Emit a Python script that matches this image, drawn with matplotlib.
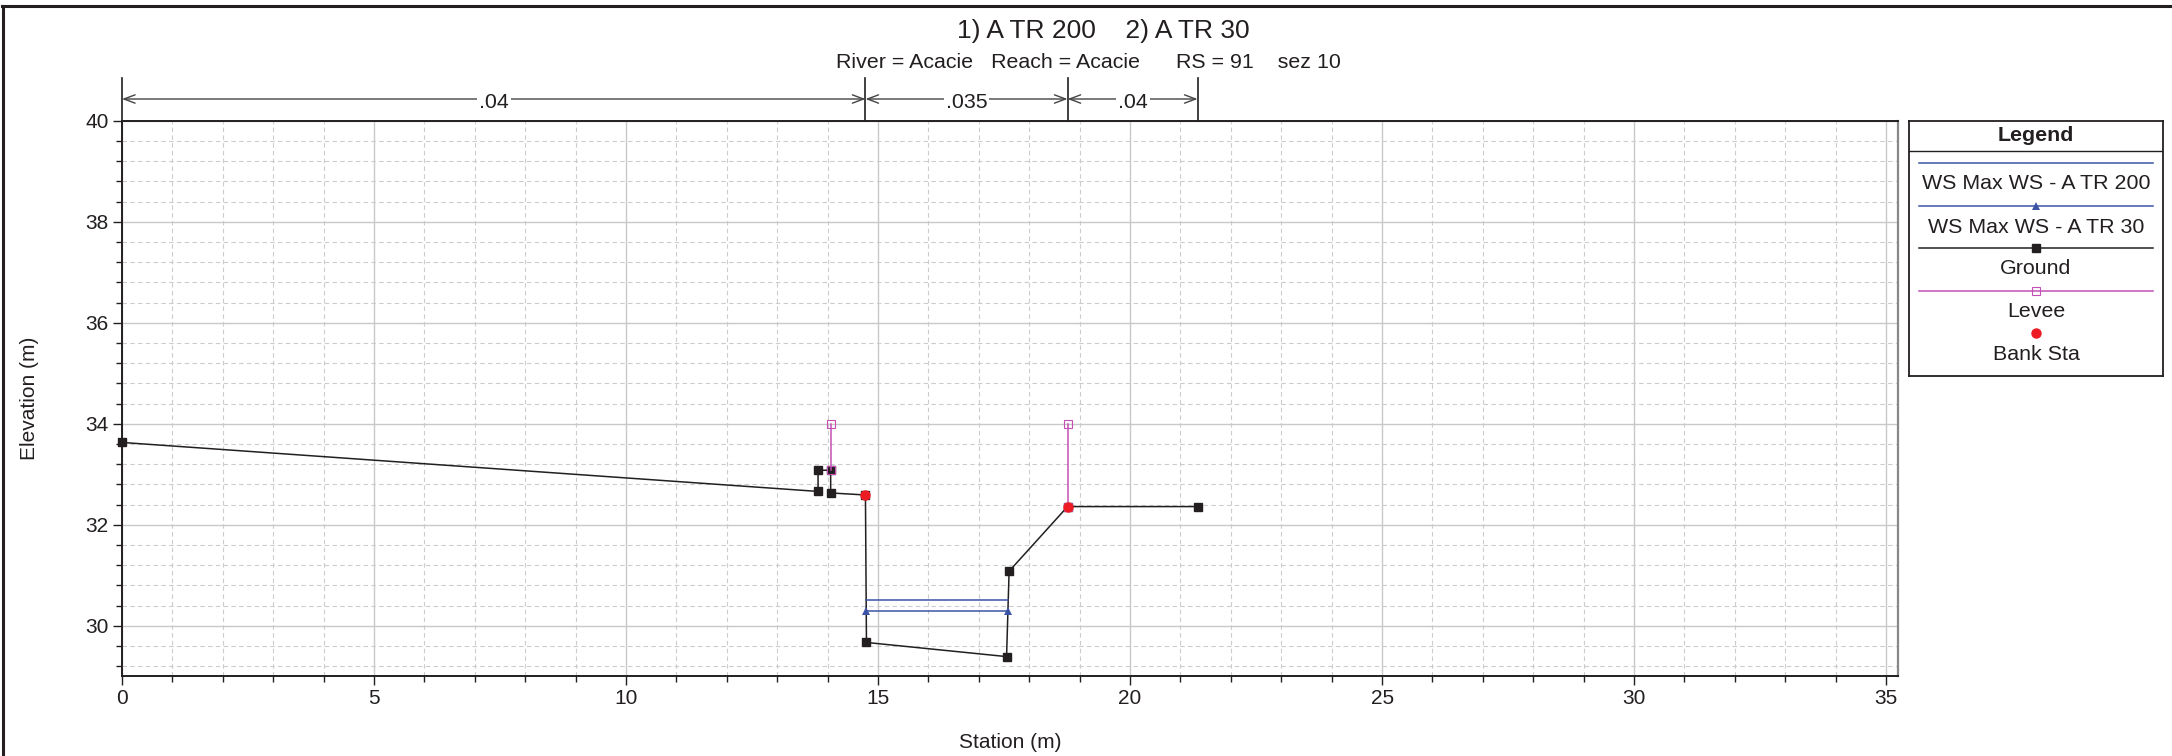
import matplotlib.pyplot as plt
from matplotlib.ticker import MultipleLocator
from matplotlib.transforms import blended_transform_factory
from matplotlib.lines import Line2D

plt.rcParams['font.family'] = ['Liberation Sans', 'DejaVu Sans']

# cross section RS 91 (station m, elevation m)
ground_sta = [0.0, 13.81, 13.81, 14.06, 14.06, 14.75, 14.77, 17.55, 17.60, 18.76, 21.34]
ground_elev = [33.63, 32.66, 33.08, 33.08, 32.63, 32.59, 29.67, 29.39, 31.08, 32.36, 32.36]

ws200_sta = [14.77, 17.58]
ws200_elev = [30.51, 30.51]
ws30_sta = [14.77, 17.58]
ws30_elev = [30.29, 30.29]

levee_sta = [14.06, 18.76]
levee_base = [33.08, 32.36]
levee_top = [34.0, 34.0]

bank_sta = [14.75, 18.76]
bank_elev = [32.59, 32.36]

n_breaks = [0.0, 14.75, 18.76, 21.34]
n_values = ['.04', '.035', '.04']

legend_labels = ['WS Max WS - A TR 200', 'WS Max WS - A TR 30', 'Ground', 'Levee', 'Bank Sta']

title = '1) A TR 200    2) A TR 30'
subtitle = 'River = Acacie   Reach = Acacie      RS = 91    sez 10'

W, H = 2172, 756
fig = plt.figure(figsize=(W / 100, H / 100), dpi=100)


def fx(px):
    return px / W


def fy(py):
    return 1 - py / H


dark = '#231f20'
blue = '#3b54a5'
magenta = '#c44fb5'
fs = 15.4

ws200_style = dict(color=blue, lw=1.1)
ws30_style = dict(color=blue, lw=1.1, marker='^', markersize=5.5, markeredgewidth=0)
ground_style = dict(color=dark, lw=1.1, marker='s', markersize=6, mec=dark)
levee_style = dict(color=magenta, lw=1.1, marker='s', markersize=5.5, mfc='none', mec=magenta, mew=0.8)
bank_style = dict(color='#ed1c24', ls='none', marker='o', markersize=6.5)

ax = fig.add_axes([fx(122), fy(676.3), fx(1897.7) - fx(122), fy(120.7) - fy(676.3)])

ax.plot(ground_sta, ground_elev, zorder=3, clip_on=False, **ground_style)
ax.plot(ws200_sta, ws200_elev, zorder=4, **ws200_style)
ax.plot(ws30_sta, ws30_elev, zorder=4, **ws30_style)
for s, b, t in zip(levee_sta, levee_base, levee_top):
    ax.plot([s, s], [b, t], zorder=5, **levee_style)
ax.plot(bank_sta, bank_elev, zorder=6, **bank_style)

ax.set_xlim(0, 35.23)
ax.set_ylim(29.0, 40.0)
ax.xaxis.set_major_locator(MultipleLocator(5))
ax.xaxis.set_minor_locator(MultipleLocator(1))
ax.yaxis.set_major_locator(MultipleLocator(2))
ax.yaxis.set_minor_locator(MultipleLocator(0.4))
ax.set_axisbelow(True)
ax.grid(which='major', color='#c8c8c8', lw=1.0, ls='-')
ax.grid(which='minor', color='#cccccc', lw=0.8, ls=(0, (4, 3)))
ax.tick_params(which='major', length=6.5, width=1, color=dark, labelsize=15, pad=3, labelcolor=dark)
ax.tick_params(which='minor', length=4, width=1, color=dark)

for side in ['left', 'bottom', 'top']:
    ax.spines[side].set_color(dark)
    ax.spines[side].set_linewidth(1.4)
ax.spines['right'].set_color('#888888')
ax.spines['right'].set_linewidth(1.6)

fig.text(fx(1010), fy(748.3), 'Station (m)', ha='center', va='baseline', fontsize=15, color=dark)
fig.text(fx(35), fy(398.5), 'Elevation (m)', rotation=90, rotation_mode='anchor',
         ha='center', va='baseline', fontsize=15, color=dark)

fig.text(fx(1103), fy(38.3), title, ha='center', va='baseline', fontsize=19, color=dark)
fig.text(fx(1088), fy(68.3), subtitle, ha='center', va='baseline', fontsize=fs, color=dark)

# Manning's n bar above the plot
trans = blended_transform_factory(ax.transData, ax.transAxes)
ax_h = 676.3 - 120.7
y_arrow = 1 + (120.7 - 99) / ax_h
y_vtop = 1 + (120.7 - 78) / ax_h
y_text = 1 + (120.7 - 108.3) / ax_h
for s in n_breaks:
    ax.plot([s, s], [1.0, y_vtop], transform=trans, color=dark, lw=1.2, clip_on=False)
for x0, x1, val in zip(n_breaks[:-1], n_breaks[1:], n_values):
    ax.annotate('', xy=(x1, y_arrow), xytext=(x0, y_arrow), xycoords=trans, textcoords=trans,
                arrowprops=dict(arrowstyle='<->,head_length=0.4,head_width=0.15', color='#444444',
                                lw=1.0, shrinkA=0, shrinkB=0, mutation_scale=20),
                annotation_clip=False)
    ax.text((x0 + x1) / 2, y_text, val, transform=trans, ha='center', va='baseline', fontsize=fs,
            color=dark, bbox=dict(fc='white', ec='none', pad=1.5))

# legend box
lx0, ly0, lx1, ly1 = 1909, 121, 2163, 376
lax = fig.add_axes([fx(lx0), fy(ly1), fx(lx1) - fx(lx0), fy(ly0) - fy(ly1)])
lax.set_xlim(0, lx1 - lx0)
lax.set_ylim(ly1 - ly0, 0)
lax.set_xticks([])
lax.set_yticks([])
for sp in lax.spines.values():
    sp.set_color(dark)
    sp.set_linewidth(1.3)
lax.axhline(30, color=dark, lw=1.0)
cx = (lx1 - lx0) / 2
lax.text(cx, 19.7, 'Legend', ha='center', va='baseline', fontsize=fs, fontweight='bold', color=dark)

styles = [ws200_style, ws30_style, ground_style, levee_style, bank_style]
line_rows = [42, 85, 127, 170, 212]
text_rows = [68.3, 111.7, 153, 195.7, 239]
for lab, st, ly, ty in zip(legend_labels, styles, line_rows, text_rows):
    lax.plot([10, cx, 244], [ly, ly, ly], markevery=[1], **st)
    lax.text(cx, ty, lab, ha='center', va='baseline', fontsize=fs, color=dark)

# outer frame
fig.add_artist(Line2D([fx(2), 1], [fy(5.5), fy(5.5)], transform=fig.transFigure, color=dark, lw=2.2))
fig.add_artist(Line2D([fx(3), fx(3)], [0, fy(5.5)], transform=fig.transFigure, color=dark, lw=2.2))

fig.savefig('out.png', dpi=100)
